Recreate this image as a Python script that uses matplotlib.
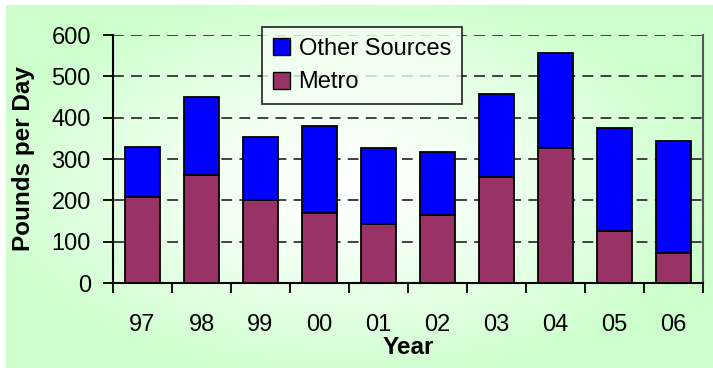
import numpy as np
import matplotlib
matplotlib.use("Agg")
import matplotlib.pyplot as plt
from matplotlib.patches import Patch

years = ["97", "98", "99", "00", "01", "02", "03", "04", "05", "06"]
metro = [207, 261, 201, 169, 143, 165, 256, 326, 126, 72]
total = [329, 451, 354, 381, 327, 317, 458, 556, 375, 343]
other = [t - m for t, m in zip(total, metro)]

plt.rcParams['font.family'] = ['Liberation Sans', 'DejaVu Sans']

W, H = 713, 368
fig = plt.figure(figsize=(W / 100, H / 100), dpi=100)
fig.patch.set_facecolor('white')

# background with radial gradient (light green edges, white centre)
bg = fig.add_axes([6 / W, 0, 1 - 6 / W, 1 - 5 / H], zorder=-10)
yy, xx = np.mgrid[0:363, 0:707]
cx, cy = 340, 180
r = np.sqrt(((xx - cx) / 380.0) ** 2 + ((yy - cy) / 200.0) ** 2)
t = np.clip(r, 0, 1) ** 1.3
img = np.zeros((363, 707, 3))
green = np.array([0.80, 1.0, 0.80])
white = np.array([1.0, 1.0, 1.0])
img[:] = white[None, None, :] * (1 - t[..., None]) + green[None, None, :] * t[..., None]
bg.imshow(img, aspect='auto', extent=[0, 1, 0, 1])
bg.axis('off')

ax = fig.add_axes([113 / W, 1 - 283 / H, (703 - 113) / W, (283 - 35) / H])
ax.patch.set_alpha(0)

x = np.arange(len(years))
bw = 0.61
ax.bar(x, metro, bw, color='#993366', edgecolor='black', linewidth=1.3, zorder=3)
ax.bar(x, other, bw, bottom=metro, color='#0000ff', edgecolor='black', linewidth=1.3, zorder=3)

ax.set_xlim(-0.5, len(years) - 0.5)
ax.set_ylim(0, 600)
ax.set_yticks(range(0, 601, 100))
ax.yaxis.grid(True, linestyle=(0, (6, 4)), color='#333333', linewidth=1.3, zorder=1)
ax.set_xticks(x)
ax.set_xticklabels(years)
ax.set_xticks(np.arange(-0.5, len(years), 1.0), minor=True)
ax.tick_params(axis='x', which='major', length=0, pad=22, labelsize=17)
ax.tick_params(axis='x', which='minor', length=7, width=1.3, direction='out')
ax.tick_params(axis='y', length=7, width=1.3, pad=9, labelsize=17)

ax.spines['top'].set_visible(False)
ax.spines['right'].set_color('#555555')
ax.spines['right'].set_linewidth(1.5)
ax.spines['left'].set_linewidth(1.5)
ax.spines['bottom'].set_linewidth(1.5)

ax.set_ylabel('Pounds per Day', fontsize=17.5, fontweight='bold', labelpad=12)
ax.set_xlabel('Year', fontsize=17.5, fontweight='bold', labelpad=0)

handles = [Patch(facecolor='#0000ff', edgecolor='black', label='Other Sources'),
           Patch(facecolor='#993366', edgecolor='black', label='Metro')]
leg = ax.legend(handles=handles, loc='upper left', bbox_to_anchor=((262 - 113) / 590, (283 - 27) / 248),
                fontsize=17, frameon=True, fancybox=False, edgecolor='black',
                handlelength=0.75, handleheight=0.75, handletextpad=0.35, labelspacing=0.5,
                borderaxespad=0, borderpad=0.45)
leg.get_frame().set_linewidth(1.3)
leg.get_frame().set_facecolor('#f4fff4')
leg.set_zorder(5)

fig.savefig('out.png', dpi=100)
